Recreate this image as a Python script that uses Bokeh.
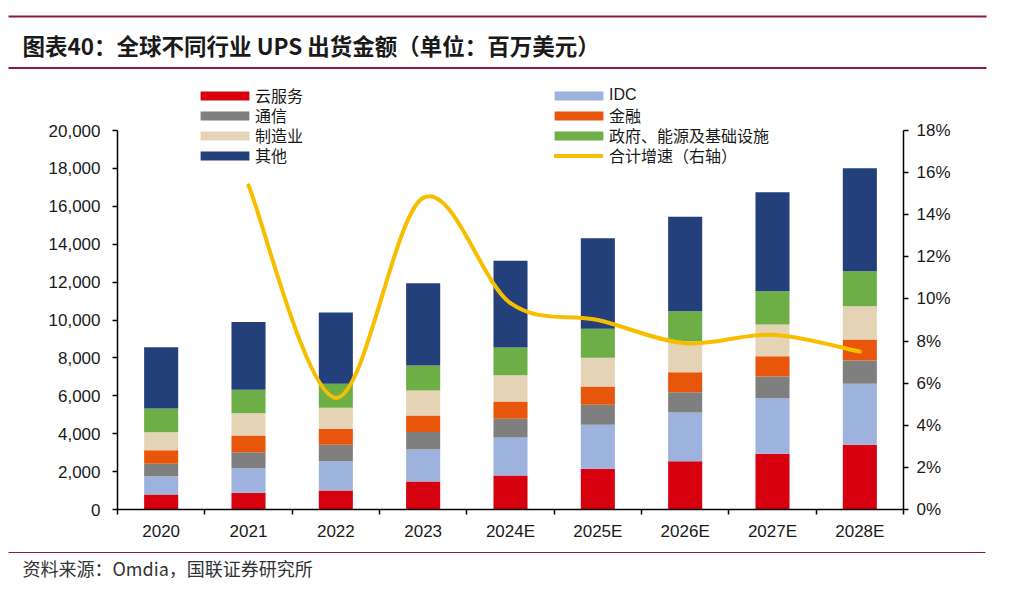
from bokeh.plotting import figure
from bokeh.models import (Range1d, LinearAxis, FixedTicker, NumeralTickFormatter,
                          PrintfTickFormatter, Legend, LegendItem, ColumnDataSource)
from bokeh.layouts import column
from bokeh.embed import file_html
from bokeh.resources import INLINE
from bokeh.core.properties import value

# ---------------- data ----------------
years = ["2020", "2021", "2022", "2023", "2024E", "2025E", "2026E", "2027E", "2028E"]
cloud = [790, 880, 1000, 1480, 1795, 2150, 2550, 2940, 3415]
idc = [970, 1300, 1550, 1690, 2005, 2320, 2570, 2935, 3215]
telecom = [650, 845, 865, 915, 985, 1055, 1070, 1145, 1230]
finance = [720, 880, 845, 880, 915, 965, 1055, 1070, 1110]
manufacturing = [950, 1175, 1105, 1320, 1390, 1515, 1635, 1670, 1760]
government = [1250, 1235, 1265, 1320, 1460, 1530, 1585, 1760, 1845]
other = [3235, 3585, 3765, 4340, 4575, 4785, 4980, 5225, 5435]
growth_years = ["2021", "2022", "2023", "2024E", "2025E", "2026E", "2027E", "2028E"]
growth = [15.4, 5.3, 14.8, 9.8, 9.0, 7.9, 8.3, 7.5]  # %

series_names = ["云服务", "IDC", "通信", "金融", "制造业", "政府、能源及基础设施", "其他"]
line_name = "合计增速（右轴）"
left_ticks = list(range(0, 20001, 2000))
right_ticks = list(range(0, 19, 2))

title_text = "图表40：全球不同行业 UPS 出货金额（单位：百万美元）"
source_text = "资料来源：Omdia，国联证券研究所"

# ---------------- styles ----------------
colors = ["#D7000F", "#9DB2DC", "#7F7F7F", "#E8560B", "#E4D4B5", "#6DAE47", "#23407A"]
line_color = "#F7BE00"
rule_color = "#8C1A3A"
cjk = value("Noto Sans CJK SC")
latin = "Liberation Sans"
legend_font = "Liberation Sans, Noto Sans CJK SC"

W = 1010

# ---------------- header ----------------
HH = 72
hdr = figure(width=W, height=HH, x_range=Range1d(0, W), y_range=Range1d(HH, 0), title=None,
             toolbar_location=None, output_backend="svg", min_border=0,
             x_axis_location=None, y_axis_location=None, outline_line_color=None)
hdr.frame_align = False
hdr.grid.visible = False
hdr.segment(x0=[8, 8], y0=[16, 67.5], x1=[986, 986], y1=[16, 67.5],
            line_color=rule_color, line_width=2)
hdr.text(x=[22], y=[44], text=[title_text], text_font=cjk, text_font_style="bold",
         text_font_size="22.5px", text_baseline="middle", text_color="#1a1a1a")

# ---------------- main chart ----------------
MH = 474
frame_top, frame_bottom = 2, 37           # borders (px)
axis_px = 379                              # pixel height of 0..20000
frame_px = MH - frame_top - frame_bottom
ymax = left_ticks[-1] * frame_px / axis_px
pmax = right_ticks[-1] * frame_px / axis_px

keys = ["cloud", "idc", "telecom", "finance", "manufacturing", "government", "other"]
xs = [i + 0.5 for i in range(len(years))]
src = ColumnDataSource(dict(x=xs, cloud=cloud, idc=idc, telecom=telecom, finance=finance,
                            manufacturing=manufacturing, government=government, other=other))

p = figure(width=W, height=MH, x_range=Range1d(0, len(years)), y_range=Range1d(0, ymax),
           title=None, toolbar_location=None, output_backend="svg",
           min_border_left=117, min_border_right=W - 903, min_border_top=frame_top,
           min_border_bottom=frame_bottom, outline_line_color=None)
p.frame_align = False
p.grid.visible = False

bars = p.vbar_stack(keys, x="x", width=0.39, source=src, fill_color=colors, line_color=colors,
                    line_width=0)

# growth line: smooth curve through the data points (cubic Bezier segments)
gx = [years.index(y) + 0.5 for y in growth_years]
n = len(gx)
def P(i):
    i = max(0, min(n - 1, i))
    return gx[i], growth[i]
bx0, by0, bx1, by1, cx0, cy0, cx1, cy1 = [], [], [], [], [], [], [], []
for i in range(n - 1):
    (xa, ya_), (xb, yb) = P(i), P(i + 1)
    (xp, yp), (xn, yn) = P(i - 1), P(i + 2)
    bx0.append(xa); by0.append(ya_); bx1.append(xb); by1.append(yb)
    cx0.append(xa + (xb - xp) / 6); cy0.append(ya_ + (yb - yp) / 6)
    cx1.append(xb - (xn - xa) / 6); cy1.append(yb - (yn - ya_) / 6)

p.extra_y_ranges = {"pct": Range1d(0, pmax)}
curve = p.bezier(x0=bx0, y0=by0, x1=bx1, y1=by1, cx0=cx0, cy0=cy0, cx1=cx1, cy1=cy1,
                 y_range_name="pct", line_color=line_color, line_width=4, line_cap="round")

# axes
def style_axis(ax):
    ax.axis_line_color = "#000000"
    ax.axis_line_width = 1.5
    ax.major_tick_line_color = "#000000"
    ax.major_tick_line_width = 1.5
    ax.minor_tick_line_color = "#000000"
    ax.minor_tick_line_width = 1.5
    ax.major_label_text_font = latin
    ax.major_label_text_font_size = "17px"
    ax.major_label_text_color = "#1a1a1a"

ya = p.yaxis[0]
ya.ticker = FixedTicker(ticks=left_ticks)
ya.formatter = NumeralTickFormatter(format="0,0")
ya.bounds = (left_ticks[0], left_ticks[-1])
ya.major_tick_out = 5
ya.major_tick_in = 0
ya.major_label_standoff = 12
style_axis(ya)

ra = LinearAxis(y_range_name="pct", ticker=FixedTicker(ticks=right_ticks),
                formatter=PrintfTickFormatter(format="%d%%"),
                bounds=(right_ticks[0], right_ticks[-1]))
ra.major_tick_out = 5
ra.major_tick_in = 0
ra.major_label_standoff = 8
style_axis(ra)
p.add_layout(ra, "right")

xa = p.xaxis[0]
xa.ticker = FixedTicker(ticks=xs, minor_ticks=list(range(len(years) + 1)))
xa.major_label_overrides = {x: y for x, y in zip(xs, years)}
xa.major_tick_out = 0
xa.major_tick_in = 0
xa.minor_tick_out = 5
xa.minor_tick_in = 0
xa.major_label_standoff = 7
style_axis(xa)

# legends: one single-row legend per entry, in two columns of four rows
ROW_H = 30
frame_bottom_page = 509
row_centers = [95, 115, 135, 155]   # page px of rows

def add_legend_row(label, renderer, row, x, gw, standoff):
    vy = frame_bottom_page - row_centers[row] - ROW_H / 2
    lg = Legend(items=[LegendItem(label=label, renderers=[renderer])], location=(x, vy),
                orientation="vertical", glyph_width=gw, glyph_height=11,
                label_standoff=standoff, spacing=0, padding=0, margin=0,
                label_height=ROW_H, label_text_font=legend_font,
                label_text_font_size="16px", label_text_color="#1a1a1a",
                background_fill_alpha=0, border_line_color=None)
    p.add_layout(lg)

for row, i in enumerate((0, 2, 4, 6)):
    add_legend_row(series_names[i], bars[i], row, 77, 61, 0)
for row, i in enumerate((1, 3, 5)):
    add_legend_row(series_names[i], bars[i], row, 431, 61, 0)
add_legend_row(line_name, curve, 3, 437, 49, 6)

# ---------------- footer ----------------
FH = 44
ftr = figure(width=W, height=FH, x_range=Range1d(0, W), y_range=Range1d(FH, 0), title=None,
             toolbar_location=None, output_backend="svg", min_border=0,
             x_axis_location=None, y_axis_location=None, outline_line_color=None)
ftr.frame_align = False
ftr.grid.visible = False
ftr.segment(x0=[8], y0=[6], x1=[985], y1=[6], line_color=rule_color, line_width=1.2)
ftr.text(x=[22], y=[21], text=[source_text], text_font=cjk, text_font_size="18px",
         text_baseline="middle", text_color="#333333")

layout = column(hdr, p, ftr, spacing=0)
open("out.html", "w").write(file_html(layout, INLINE))
